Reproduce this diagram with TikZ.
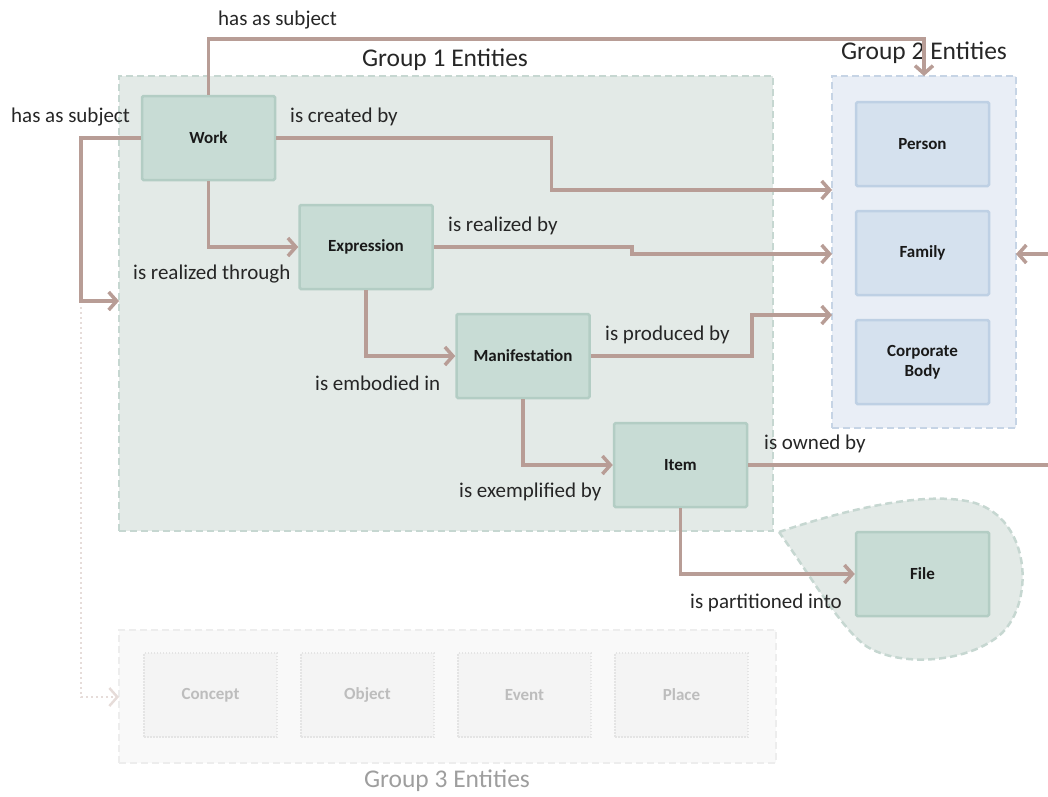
\documentclass[tikz,border=0pt]{standalone}
\usepackage{fontspec}
\setmainfont{Carlito}
\usetikzlibrary{arrows.meta,calc}
\definecolor{gonefill}{HTML}{E3EAE7}
\definecolor{goneline}{HTML}{C6D7D1}
\definecolor{gtwofill}{HTML}{E9EEF6}
\definecolor{gtwoline}{HTML}{C6D4E5}
\definecolor{greennode}{HTML}{C8DCD5}
\definecolor{greenline}{HTML}{B3CDC4}
\definecolor{bluenode}{HTML}{D5E1EE}
\definecolor{blueline}{HTML}{BED0E4}
\definecolor{edgecol}{HTML}{B89D96}
\definecolor{gthreefill}{HTML}{F9F9F9}
\definecolor{gthreeline}{HTML}{EDEDED}
\definecolor{faintnode}{HTML}{F4F4F4}
\definecolor{faintline}{HTML}{E4E4E4}
\definecolor{fainttext}{HTML}{BDBDBD}
\definecolor{dotcol}{HTML}{E6DCD9}
\begin{document}
\begin{tikzpicture}[x=1pt,y=-1pt,
  grpbox/.style={draw, line width=2.5pt, dash pattern=on 7pt off 4pt, minimum width=#1, inner sep=0pt, outer sep=0pt},
  entity/.style={rectangle, rounded corners=1.5pt, fill=greennode, draw=greenline, line width=2.5pt, minimum width=133pt, minimum height=84pt, font=\fontsize{17}{20}\selectfont\bfseries, align=center, text=black!90},
  person/.style={entity, fill=bluenode, draw=blueline},
  faint/.style={rectangle, fill=faintnode, draw=faintline, line width=2pt, dash pattern=on 1.5pt off 1.5pt, minimum width=133pt, minimum height=84pt, font=\fontsize{17}{20}\selectfont\bfseries, text=fainttext},
  rel/.style={draw=edgecol, line width=3.5pt, -{Straight Barb[length=8pt,width=18pt]}},
  plainrel/.style={draw=edgecol, line width=3.5pt},
  lbl/.style={anchor=west, font=\fontsize{21}{24}\selectfont, text=black!85, inner sep=0pt},
  title/.style={font=\fontsize{25.5}{30}\selectfont, text=black!85, inner sep=0pt}
]
\useasboundingbox (0,0) rectangle (1048,796);

% group boxes
\node[grpbox=654pt, fill=gonefill, draw=goneline, minimum height=455pt] (g1) at (446,303.5) {};
\node[grpbox=184pt, fill=gtwofill, draw=gtwoline, minimum height=352pt] (g2) at (924,252) {};
\node[grpbox=657pt, fill=gthreefill, draw=gthreeline, minimum height=133pt] (g3) at (447.5,696.5) {};

% file blob
\draw[fill=gonefill, draw=goneline, line width=2.5pt, dash pattern=on 7pt off 4pt]
  (779,532) .. controls (850,508) and (930,490) .. (975,503)
  .. controls (1030,520) and (1035,600) .. (1002,633)
  .. controls (970,663) and (900,668) .. (866,646)
  .. controls (840,627) and (812,578) .. cycle;

% titles
\node[title] (t1) at (445,60) {Group 1 Entities};
\node[title] (t2) at (924,53) {Group 2 Entities};
\node[title, text=black!38] (t3) at (447,781) {Group 3 Entities};

% entities
\node[entity] (work) at (208.5,138) {Work};
\node[entity] (expr) at (366,247) {Expression};
\node[entity] (man) at (523,356) {Manifestation};
\node[entity] (item) at (680.5,465) {Item};
\node[entity] (file) at (922.5,574) {File};
\node[person] (person) at (922.5,144) {Person};
\node[person] (family) at (922.5,253) {Family};
\node[person] (corp) at (922.5,362) {Corporate\\Body};

\node[faint] (concept) at (210.5,695) {Concept};
\node[faint] (object) at (367.5,695) {Object};
\node[faint] (event) at (524.5,695) {Event};
\node[faint] (place) at (681.5,695) {Place};

% coordinates
\coordinate (lft) at (81,301);
\coordinate (lftb) at (81,307);
\coordinate (g1in) at (119,301);
\coordinate (g3in) at (119,697);
\coordinate (g2a) at (832,190);
\coordinate (g2b) at (832,254);
\coordinate (g2c) at (832,315);
\coordinate (ownedend) at (1048,465);
\coordinate (famstart) at (1048,254);
\coordinate (famend) at (1016,254);

% connectors
\draw[rel] (work.north) -- ++(0,-56) -| (g2.north);
\draw[rel] (work.west) -| (lft) -- (g1in);
\draw[draw=dotcol, line width=2.5pt, dash pattern=on 2pt off 3pt, -{Straight Barb[length=8pt,width=18pt]}] (lftb) |- (g3in);
\draw[rel] (work.east) -- ++(275,0) |- (g2a);
\draw[rel] (work.south) |- (expr.west);
\draw[rel] (expr.east) -- ++(198,0) -- ++(0,7) -- (g2b);
\draw[rel] (expr.south) |- (man.west);
\draw[rel] (man.east) -- ++(161,0) |- (g2c);
\draw[rel] (man.south) |- (item.west);
\draw[plainrel] (item.east) -- (ownedend);
\draw[rel] (famstart) -- (famend);
\draw[rel] (item.south) |- (file.west);

% labels
\node[lbl] (l1) at (218,20) {has as subject};
\node[lbl] (l2) at (11,117) {has as subject};
\node[lbl] (l3) at (290,117) {is created by};
\node[lbl] (l4) at (133,274) {is realized through};
\node[lbl] (l5) at (448,226) {is realized by};
\node[lbl] (l6) at (315,383) {is embodied in};
\node[lbl] (l7) at (605,335) {is produced by};
\node[lbl] (l8) at (459,492) {is exemplified by};
\node[lbl] (l9) at (764,444) {is owned by};
\node[lbl] (l10) at (690,603) {is partitioned into};
\end{tikzpicture}
\end{document}
